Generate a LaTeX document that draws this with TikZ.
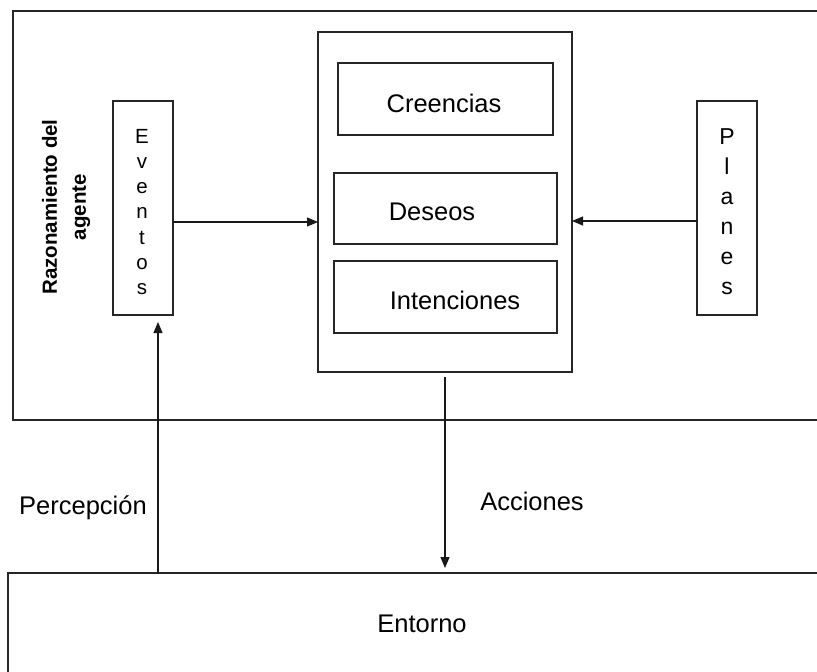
\documentclass[tikz,border=0pt]{standalone}
\usepackage{fontspec}
\setmainfont{Liberation Sans}
\usetikzlibrary{arrows.meta}
\begin{document}
\begin{tikzpicture}[x=1pt,y=-1pt,
  box/.style={draw=black!85, line width=1.3pt, inner sep=0pt, outer sep=0pt},
  lbl/.style={font=\fontsize{25.5}{30}\selectfont, anchor=base, inner sep=0pt},
  vlet/.style={anchor=base, inner sep=0pt},
  arr/.style={-{Triangle[length=11pt,width=9pt]}, line width=1.2pt, draw=black!90},
  ]
\useasboundingbox (0,0) rectangle (817,672);
% agent reasoning region (open on the right)
\coordinate (agTR) at (817,11);
\coordinate (agTL) at (13,11);
\coordinate (agBL) at (13,420);
\coordinate (agBR) at (817,420);
\draw[box] (agTR) -- (agTL) -- (agBL) -- (agBR);
% environment region (open on right and bottom)
\coordinate (envR) at (817,573);
\coordinate (envL) at (8,573);
\coordinate (envB) at (8,676);
\draw[box] (envR) -- (envL) -- (envB);
\coordinate (envtop) at (445,573);
\coordinate (perc) at (158,573);

\node[box, minimum width=60pt, minimum height=214pt] (eventos) at (143,208) {};
\node[box, minimum width=60pt, minimum height=214pt] (planes) at (727,208) {};
\node[box, minimum width=254pt, minimum height=340pt] (bdi) at (445,202) {};
\node[box, minimum width=215pt, minimum height=72pt] (creencias) at (445.5,99) {};
\node[box, minimum width=223pt, minimum height=71pt] (deseos) at (445.5,208.5) {};
\node[box, minimum width=223pt, minimum height=72pt] (intenciones) at (445.5,297) {};

\node[lbl] (tcre) at (444,112) {Creencias};
\node[lbl] (tdes) at (432,220) {Deseos};
\node[lbl] (tint) at (455,309) {Intenciones};

\foreach \c [count=\i from 0] in {E,v,e,n,t,o,s}
  \node[vlet, font=\fontsize{20.5}{24}\selectfont] (ev\i) at (142,143+25.3*\i) {\c};
\foreach \c [count=\i from 0] in {P,l,a,n,e,s}
  \node[vlet, font=\fontsize{23}{27}\selectfont] (pl\i) at (727,144+30*\i) {\c};

\node[rotate=90, align=center, inner sep=0pt,
      font=\fontsize{20.5}{29}\selectfont\bfseries] (razon) at (66,207)
      {Razonamiento del\\agente};

\draw[arr] ([yshift=-14pt]eventos.east) -- ([yshift=-14pt]eventos.east -| bdi.west);
\draw[arr] ([yshift=-13pt]planes.west) -- ([yshift=-13pt]planes.west -| bdi.east);
\draw[arr, shorten <=5pt, shorten >=5pt] (bdi.south) -- (envtop);
\draw[arr, shorten >=7pt] (perc) -- (perc |- eventos.south);

\node[lbl] (tperc) at (83,514) {Percepción};
\node[lbl] (tacc) at (532,510) {Acciones};
\node[lbl] (tent) at (422,632) {Entorno};
\end{tikzpicture}
\end{document}
